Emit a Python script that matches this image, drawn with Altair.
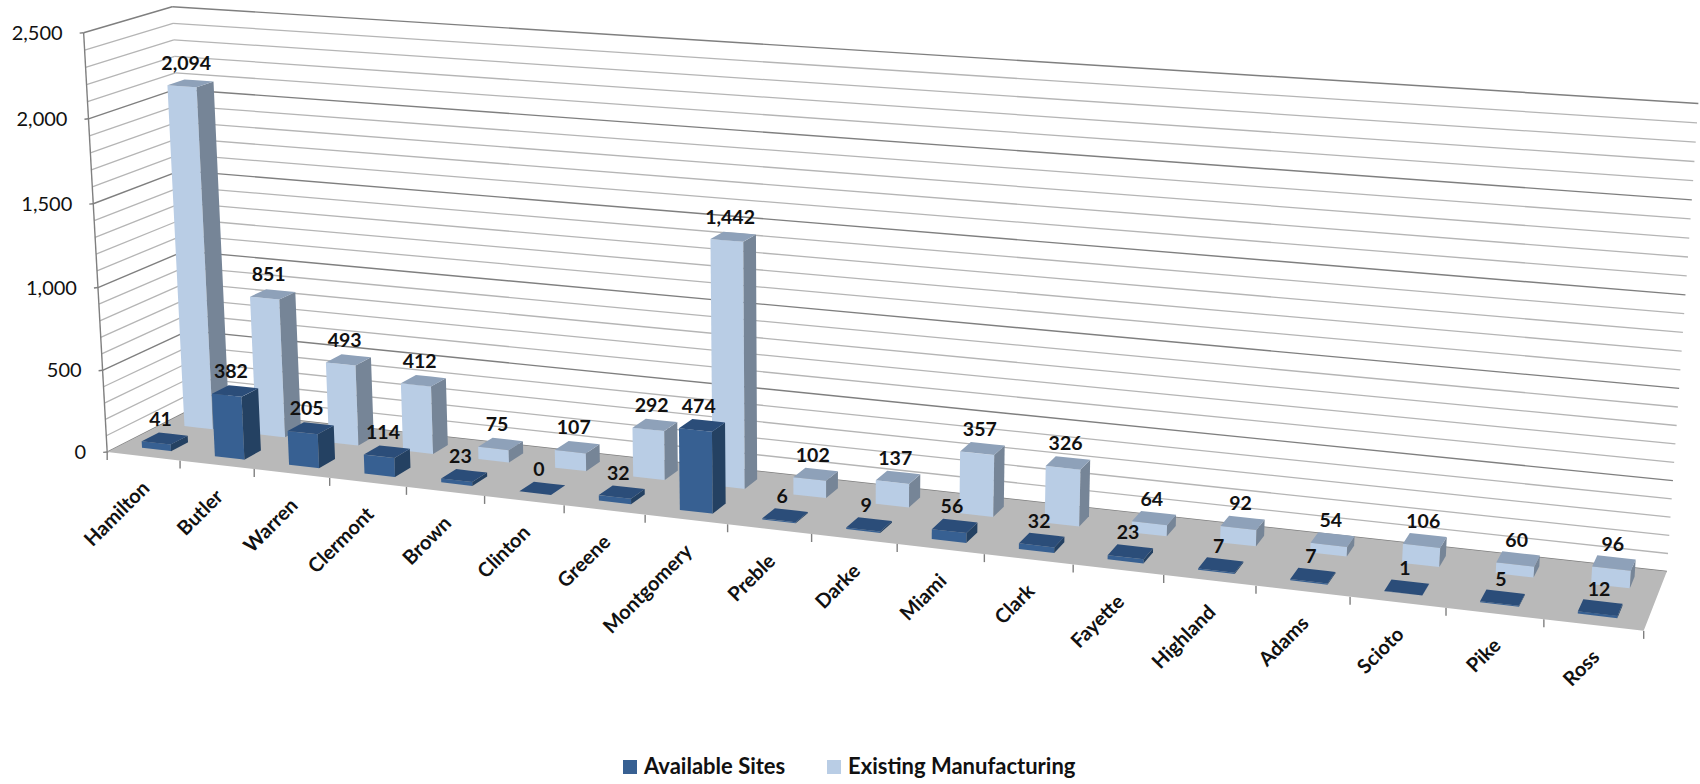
import altair as alt
import numpy as np
import pandas as pd

counties = ["Hamilton", "Butler", "Warren", "Clermont", "Brown", "Clinton", "Greene", "Montgomery", "Preble",
            "Darke", "Miami", "Clark", "Fayette", "Highland", "Adams", "Scioto", "Pike", "Ross"]
available_sites = [41, 382, 205, 114, 23, 0, 32, 474, 6, 9, 56, 32, 23, 7, 7, 1, 5, 12]
existing_manufacturing = [2094, 851, 493, 412, 75, 107, 292, 1442, 102, 137, 357, 326, 64, 92, 54, 106, 60, 96]
value_max = 2500

shades = {
    "Available Sites": "#376092",
    "Existing Manufacturing": "#B9CDE5",
    "Available side": "#244162",
    "Available top": "#2B4D79",
    "Existing side": "#768597",
    "Existing top": "#8EA1B9",
    "Floor": "#B9B9B9",
}

# Camera of the 3D box: (category position, depth, value) -> page position
camera_pairs = [
    ((0, 0, 2500), (80, 33)), ((0, 2, 2500), (173, 7)), ((18, 2, 2500), (1698, 103)),
    ((0, 0, 0), (109, 452)), ((0, 2, 0), (188, 412)), ((18, 2, 0), (1667, 570)),
    ((18, 0, 0), (1644, 633)), ((0, 0, 1000), (98, 287)), ((5, 0, 0), (484, 497)),
    ((17, 0, 0), (1543, 620)), ((7.3, 1.3, 1442), (711, 239)), ((0.3, 1.3, 2094), (169, 86)),
    ((0.7, 1.7, 2094), (215, 81)), ((1.7, 0.7, 382), (259, 388)), ((1.7, 0.3, 0), (245, 458)),
    ((1.7, 0.7, 0), (262, 448)), ((17.7, 1.7, 96), (1636, 559)), ((17.3, 1.3, 0), (1591, 584)),
]


def fit_camera(pairs):
    rows, rhs = [], []
    for (u, v, w), (px, py) in pairs:
        a, b, c = u / 18, v / 2, w / value_max
        rows.append([a, b, c, 1, 0, 0, 0, 0, -px * a, -px * b, -px * c])
        rhs.append(px)
        rows.append([0, 0, 0, 0, a, b, c, 1, -py * a, -py * b, -py * c])
        rhs.append(py)
    solved = np.linalg.lstsq(np.array(rows, float), np.array(rhs, float), rcond=None)[0]
    return np.append(solved, 1).reshape(3, 4)


camera = fit_camera(camera_pairs)


def project(u, v, w):
    hx, hy, hz = camera @ np.array([u / 18, v / 2, w / value_max, 1])
    return hx / hz, hy / hz


face_rows = []


def add_face(corners, shade, value):
    """Split a convex face into x stations so an area mark can fill it."""
    points = [project(*c) for c in corners]
    xs = sorted(set(round(p[0], 2) for p in points))
    face = f"f{len(set(r['face'] for r in face_rows)):04d}"
    for x in xs:
        hits = []
        for (x0, y0), (x1, y1) in zip(points, points[1:] + points[:1]):
            lo, hi = min(x0, x1) - 0.011, max(x0, x1) + 0.011
            if lo <= x <= hi:
                hits.append(y0 if abs(x1 - x0) < 1e-6 else y0 + (y1 - y0) * np.clip((x - x0) / (x1 - x0), 0, 1))
                if abs(x1 - x0) < 1e-6:
                    hits.append(y1)
        face_rows.append({"x": x, "y": min(hits), "y2": max(hits), "face": face, "shade": shade, "value": value})


add_face([(0, 0, 0), (18, 0, 0), (18, 2, 0), (0, 2, 0)], "Floor", 0)


def add_bar(i, v0, value, series, prefix):
    u0, u1, v1 = i + 0.3, i + 0.7, v0 + 0.4
    add_face([(u0, v0, 0), (u1, v0, 0), (u1, v0, value), (u0, v0, value)], series, value)
    add_face([(u1, v0, 0), (u1, v1, 0), (u1, v1, value), (u1, v0, value)], f"{prefix} side", value)
    add_face([(u0, v0, value), (u1, v0, value), (u1, v1, value), (u0, v1, value)], f"{prefix} top", value)


# Rear row first so the front row paints over it
for i, val in enumerate(existing_manufacturing):
    add_bar(i, 1.3, val, "Existing Manufacturing", "Existing")
for i, val in enumerate(available_sites):
    add_bar(i, 0.3, val, "Available Sites", "Available")

faces = pd.DataFrame(face_rows)

# Wall gridlines, axis line and tick marks
major_rows, minor_rows = [], []
for w in range(0, value_max + 1, 100):
    target = major_rows if w % 500 == 0 else minor_rows
    for a, b in [((0, 0, w), (0, 2, w)), ((0, 2, w), (18, 2, w))]:
        (x0, y0), (x1, y1) = project(*a), project(*b)
        target.append({"x": x0, "y": y0, "x2": x1, "y2": y1})
for w in range(0, value_max + 1, 500):
    x0, y0 = project(0, 0, w)
    major_rows.append({"x": x0 - 4, "y": y0 + 0.4, "x2": x0, "y2": y0})
for a, b in [((0, 0, 0), (0, 0, value_max))]:
    (x0, y0), (x1, y1) = project(*a), project(*b)
    major_rows.append({"x": x0, "y": y0, "x2": x1, "y2": y1})
for i in range(len(counties) + 1):
    x0, y0 = project(i, 0, 0)
    major_rows.append({"x": x0, "y": y0, "x2": x0, "y2": y0 + 8})

value_labels = []
for w in range(0, value_max + 1, 500):
    x0, y0 = project(0, 0, w)
    value_labels.append({"x": x0 - 21, "y": y0 + 1, "text": f"{w:,}"})

category_labels = []
for i, name in enumerate(counties):
    x0, y0 = project(i + 0.5, 0, 0)
    category_labels.append({"x": x0 + 3, "y": y0 + 29, "text": name})

data_labels = []
for series_vals, depth in ((available_sites, 0.4), (existing_manufacturing, 1.4)):
    for i, val in enumerate(series_vals):
        x0, y0 = project(i + 0.5, depth, val)
        data_labels.append({"x": x0, "y": y0 - 21, "text": f"{val:,}"})

x_enc = alt.X("x:Q", scale=alt.Scale(domain=[0, 1700], nice=False, zero=False), axis=None)
y_enc = alt.Y("y:Q", scale=alt.Scale(domain=[784, 0], nice=False, zero=False), axis=None)


def rules(rows, color, width):
    return alt.Chart(pd.DataFrame(rows)).mark_rule(color=color, strokeWidth=width).encode(
        x=x_enc, y=y_enc, x2="x2:Q", y2="y2:Q")


def texts(rows, **style):
    return alt.Chart(pd.DataFrame(rows)).mark_text(font="Lato", color="#111111", **style).encode(
        x=x_enc, y=y_enc, text="text:N")


area_layer = alt.Chart(faces).mark_area(orient="vertical", interpolate="linear").encode(
    x=x_enc,
    y=alt.Y("y:Q", scale=alt.Scale(domain=[784, 0], nice=False, zero=False), axis=None, stack=None),
    y2="y2:Q",
    detail="face:N",
    color=alt.Color(
        "shade:N",
        scale=alt.Scale(domain=list(shades), range=list(shades.values())),
        legend=alt.Legend(
            values=["Available Sites", "Existing Manufacturing"], title=None, orient="none",
            legendX=619, legendY=756, direction="horizontal", columns=2, symbolType="square",
            symbolSize=196, symbolStrokeWidth=0, labelFont="Lato", labelFontWeight="bold", labelFontSize=22,
            labelColor="#111111", labelOffset=3, labelLimit=400, columnPadding=37,
        ),
    ),
)

chart = alt.layer(
    rules(minor_rows, "#B5B5B5", 1.3),
    rules(major_rows, "#7F7F7F", 1.4),
    area_layer,
    texts(value_labels, fontSize=20, align="right", baseline="middle"),
    texts(category_labels, fontSize=20, fontWeight="bold", align="right", baseline="middle", angle=315),
    texts(data_labels, fontSize=19.5, fontWeight="bold", align="center", baseline="middle"),
).properties(
    width=1700, height=784, padding=0, autosize=alt.AutoSizeParams(type="none"),
).configure_view(stroke=None)

chart.save("out.html", embed_options={"renderer": "svg", "actions": False})
